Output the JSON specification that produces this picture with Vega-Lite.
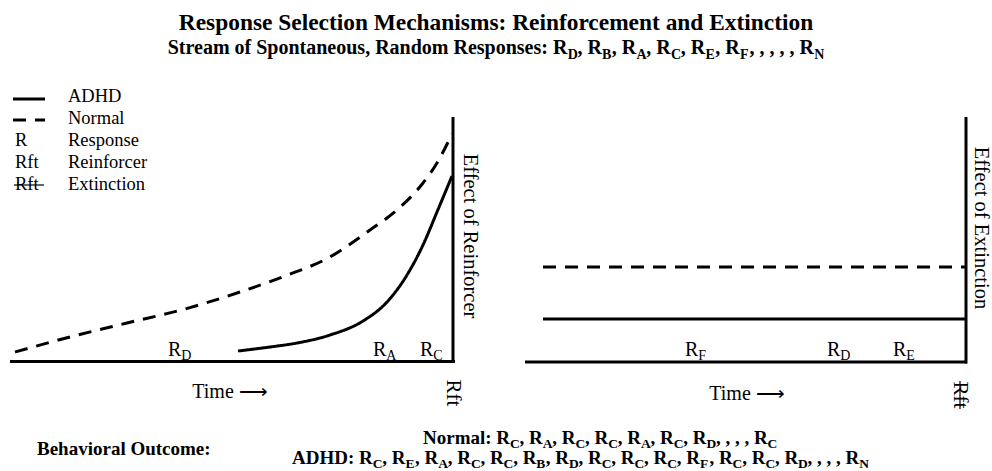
{
  "$schema": "https://vega.github.io/schema/vega-lite/v6.json",
  "width": 992,
  "height": 471,
  "padding": 0,
  "autosize": {"type": "fit", "contains": "padding"},
  "background": "white",
  "config": {"view": {"stroke": null}, "font": "Liberation Serif"},
  "datasets": {
    "frame": [
      {"x": 10, "y": 361.5, "x2": 455, "y2": 361.5},
      {"x": 453, "y": 117, "x2": 453, "y2": 363},
      {"x": 525, "y": 362, "x2": 967, "y2": 362},
      {"x": 966, "y": 117, "x2": 966, "y2": 363.5}
    ],
    "strikes": [
      {"x": 14, "y": 185, "x2": 44, "y2": 185},
      {"x": 960, "y": 381, "x2": 960, "y2": 409}
    ],
    "curves": [
      {"id": "LN", "series": "Normal", "x": 15, "y": 352},
      {"id": "LN", "series": "Normal", "x": 70, "y": 337},
      {"id": "LN", "series": "Normal", "x": 127, "y": 323},
      {"id": "LN", "series": "Normal", "x": 185, "y": 309},
      {"id": "LN", "series": "Normal", "x": 240, "y": 292},
      {"id": "LN", "series": "Normal", "x": 285, "y": 276},
      {"id": "LN", "series": "Normal", "x": 330, "y": 257},
      {"id": "LN", "series": "Normal", "x": 370, "y": 230},
      {"id": "LN", "series": "Normal", "x": 397, "y": 210},
      {"id": "LN", "series": "Normal", "x": 423, "y": 183},
      {"id": "LN", "series": "Normal", "x": 437, "y": 163},
      {"id": "LN", "series": "Normal", "x": 452, "y": 134},
      {"id": "LA", "series": "ADHD", "x": 238, "y": 351},
      {"id": "LA", "series": "ADHD", "x": 270, "y": 347},
      {"id": "LA", "series": "ADHD", "x": 297, "y": 343},
      {"id": "LA", "series": "ADHD", "x": 330, "y": 335},
      {"id": "LA", "series": "ADHD", "x": 363, "y": 321},
      {"id": "LA", "series": "ADHD", "x": 387, "y": 302},
      {"id": "LA", "series": "ADHD", "x": 407, "y": 275},
      {"id": "LA", "series": "ADHD", "x": 423, "y": 245},
      {"id": "LA", "series": "ADHD", "x": 437, "y": 212},
      {"id": "LA", "series": "ADHD", "x": 452, "y": 176},
      {"id": "RN", "series": "Normal", "x": 543, "y": 267},
      {"id": "RN", "series": "Normal", "x": 966, "y": 267},
      {"id": "RA", "series": "ADHD", "x": 543, "y": 319},
      {"id": "RA", "series": "ADHD", "x": 966, "y": 319},
      {"id": "GA", "series": "ADHD", "x": 13, "y": 99},
      {"id": "GA", "series": "ADHD", "x": 45, "y": 99},
      {"id": "GN", "series": "Normal", "x": 13, "y": 120},
      {"id": "GN", "series": "Normal", "x": 45, "y": 120}
    ],
    "texts": [
      {"k": "t1", "x": 496, "y": 30, "t": "Response Selection Mechanisms: Reinforcement and Extinction"},
      {"k": "t2m", "x": 167.7, "y": 54, "t": "Stream of Spontaneous, Random Responses: R\u00a0\u00a0, R\u00a0\u00a0, R\u00a0\u00a0, R\u00a0\u00a0, R\u00a0\u00a0, R\u00a0\u00a0, , , , , R"},
      {"k": "t2s", "x": 567.7, "y": 54, "t": "D"},
      {"k": "t2s", "x": 602.1, "y": 54, "t": "B"},
      {"k": "t2s", "x": 636.6, "y": 54, "t": "A"},
      {"k": "t2s", "x": 671.0, "y": 54, "t": "C"},
      {"k": "t2s", "x": 705.5, "y": 54, "t": "E"},
      {"k": "t2s", "x": 739.9, "y": 54, "t": "F"},
      {"k": "t2s", "x": 814.3, "y": 54, "t": "N"},
      {"k": "bm", "x": 37, "y": 455, "t": "Behavioral Outcome:"},
      {"k": "bm", "x": 423, "y": 444, "t": "Normal: R\u00a0\u00a0, R\u00a0\u00a0, R\u00a0\u00a0, R\u00a0\u00a0, R\u00a0\u00a0, R\u00a0\u00a0, R\u00a0\u00a0, , , , R"},
      {"k": "bs", "x": 510.1, "y": 444, "t": "C"},
      {"k": "bs", "x": 542.8, "y": 444, "t": "A"},
      {"k": "bs", "x": 575.5, "y": 444, "t": "C"},
      {"k": "bs", "x": 608.3, "y": 444, "t": "C"},
      {"k": "bs", "x": 641.0, "y": 444, "t": "A"},
      {"k": "bs", "x": 673.7, "y": 444, "t": "C"},
      {"k": "bs", "x": 706.4, "y": 444, "t": "D"},
      {"k": "bs", "x": 767.6, "y": 444, "t": "C"},
      {"k": "bm", "x": 292, "y": 464, "t": "ADHD: R\u00a0\u00a0, R\u00a0\u00a0, R\u00a0\u00a0, R\u00a0\u00a0, R\u00a0\u00a0, R\u00a0\u00a0, R\u00a0\u00a0, R\u00a0\u00a0, R\u00a0\u00a0, R\u00a0\u00a0, R\u00a0\u00a0, R\u00a0\u00a0, R\u00a0\u00a0, R\u00a0\u00a0, , , , R"},
      {"k": "bs", "x": 372.7, "y": 464, "t": "C"},
      {"k": "bs", "x": 405.4, "y": 464, "t": "E"},
      {"k": "bs", "x": 438.2, "y": 464, "t": "A"},
      {"k": "bs", "x": 470.9, "y": 464, "t": "C"},
      {"k": "bs", "x": 503.6, "y": 464, "t": "C"},
      {"k": "bs", "x": 536.3, "y": 464, "t": "B"},
      {"k": "bs", "x": 569.0, "y": 464, "t": "D"},
      {"k": "bs", "x": 601.8, "y": 464, "t": "C"},
      {"k": "bs", "x": 634.5, "y": 464, "t": "C"},
      {"k": "bs", "x": 667.2, "y": 464, "t": "C"},
      {"k": "bs", "x": 699.9, "y": 464, "t": "F"},
      {"k": "bs", "x": 732.6, "y": 464, "t": "C"},
      {"k": "bs", "x": 765.4, "y": 464, "t": "C"},
      {"k": "bs", "x": 798.1, "y": 464, "t": "D"},
      {"k": "bs", "x": 859.3, "y": 464, "t": "N"},
      {"k": "leg", "x": 15, "y": 140, "t": "R"},
      {"k": "leg", "x": 15, "y": 162, "t": "Rft"},
      {"k": "leg", "x": 15, "y": 184, "t": "Rft"},
      {"k": "leg", "x": 68, "y": 96, "t": "ADHD"},
      {"k": "leg", "x": 68, "y": 118, "t": "Normal"},
      {"k": "leg", "x": 68, "y": 140, "t": "Response"},
      {"k": "leg", "x": 68, "y": 162, "t": "Reinforcer"},
      {"k": "leg", "x": 68, "y": 184, "t": "Extinction"},
      {"k": "lm", "x": 168, "y": 356, "t": "R"},
      {"k": "lm", "x": 373, "y": 356, "t": "R"},
      {"k": "lm", "x": 420, "y": 356, "t": "R"},
      {"k": "lm", "x": 685, "y": 356, "t": "R"},
      {"k": "lm", "x": 827, "y": 356, "t": "R"},
      {"k": "lm", "x": 893, "y": 356, "t": "R"},
      {"k": "ls", "x": 181.3, "y": 356, "t": "D"},
      {"k": "ls", "x": 386.3, "y": 356, "t": "A"},
      {"k": "ls", "x": 433.3, "y": 356, "t": "C"},
      {"k": "ls", "x": 698.3, "y": 356, "t": "F"},
      {"k": "ls", "x": 840.3, "y": 356, "t": "D"},
      {"k": "ls", "x": 906.3, "y": 356, "t": "E"},
      {"k": "c", "x": 230, "y": 392, "t": "Time \u27f6"},
      {"k": "c", "x": 747, "y": 394, "t": "Time \u27f6"},
      {"k": "rot", "x": 470, "y": 236, "t": "Effect of Reinforcer"},
      {"k": "rot", "x": 981, "y": 228, "t": "Effect of Extinction"},
      {"k": "rot2", "x": 453, "y": 393, "t": "Rft"},
      {"k": "rot2", "x": 960, "y": 395, "t": "Rft"}
    ]
  },
  "encoding": {
    "x": {"field": "x", "type": "quantitative", "scale": {"domain": [0, 992], "nice": false, "zero": false}, "axis": null},
    "y": {"field": "y", "type": "quantitative", "scale": {"domain": [0, 471], "nice": false, "zero": false, "reverse": true}, "axis": null}
  },
  "layer": [
    {
      "data": {"name": "frame"},
      "mark": {"type": "rule", "color": "black", "strokeWidth": 3},
      "encoding": {"x2": {"field": "x2"}, "y2": {"field": "y2"}}
    },
    {
      "data": {"name": "strikes"},
      "mark": {"type": "rule", "color": "black", "strokeWidth": 1.2},
      "encoding": {"x2": {"field": "x2"}, "y2": {"field": "y2"}}
    },
    {
      "data": {"name": "curves"},
      "mark": {"type": "line", "color": "black", "strokeWidth": 3, "interpolate": "monotone"},
      "encoding": {
        "detail": {"field": "id"},
        "strokeDash": {"field": "series", "type": "nominal", "scale": {"domain": ["ADHD", "Normal"], "range": [[1, 0], [13, 9]]}, "legend": null}
      }
    },
    {
      "data": {"name": "texts"},
      "transform": [{"filter": "datum.k === 't1'"}],
      "mark": {"type": "text", "font": "Liberation Serif", "fontSize": 23.4, "fontWeight": "bold", "align": "center", "baseline": "alphabetic", "color": "black"},
      "encoding": {"text": {"field": "t"}}
    },
    {
      "data": {"name": "texts"},
      "transform": [{"filter": "datum.k === 't2m'"}],
      "mark": {"type": "text", "font": "Liberation Serif", "fontSize": 20, "fontWeight": "bold", "align": "left", "baseline": "alphabetic", "color": "black"},
      "encoding": {"text": {"field": "t"}}
    },
    {
      "data": {"name": "texts"},
      "transform": [{"filter": "datum.k === 't2s'"}],
      "mark": {"type": "text", "font": "Liberation Serif", "fontSize": 14, "fontWeight": "bold", "align": "left", "baseline": "alphabetic", "dy": 5, "color": "black"},
      "encoding": {"text": {"field": "t"}}
    },
    {
      "data": {"name": "texts"},
      "transform": [{"filter": "datum.k === 'bm'"}],
      "mark": {"type": "text", "font": "Liberation Serif", "fontSize": 19, "fontWeight": "bold", "align": "left", "baseline": "alphabetic", "color": "black"},
      "encoding": {"text": {"field": "t"}}
    },
    {
      "data": {"name": "texts"},
      "transform": [{"filter": "datum.k === 'bs'"}],
      "mark": {"type": "text", "font": "Liberation Serif", "fontSize": 13.5, "fontWeight": "bold", "align": "left", "baseline": "alphabetic", "dy": 4, "color": "black"},
      "encoding": {"text": {"field": "t"}}
    },
    {
      "data": {"name": "texts"},
      "transform": [{"filter": "datum.k === 'leg'"}],
      "mark": {"type": "text", "font": "Liberation Serif", "fontSize": 18.5, "align": "left", "baseline": "middle", "color": "black"},
      "encoding": {"text": {"field": "t"}}
    },
    {
      "data": {"name": "texts"},
      "transform": [{"filter": "datum.k === 'lm'"}],
      "mark": {"type": "text", "font": "Liberation Serif", "fontSize": 20, "align": "left", "baseline": "alphabetic", "color": "black"},
      "encoding": {"text": {"field": "t"}}
    },
    {
      "data": {"name": "texts"},
      "transform": [{"filter": "datum.k === 'ls'"}],
      "mark": {"type": "text", "font": "Liberation Serif", "fontSize": 14, "align": "left", "baseline": "alphabetic", "dy": 4, "color": "black"},
      "encoding": {"text": {"field": "t"}}
    },
    {
      "data": {"name": "texts"},
      "transform": [{"filter": "datum.k === 'c'"}],
      "mark": {"type": "text", "font": "Liberation Serif", "fontSize": 20, "align": "center", "baseline": "middle", "color": "black"},
      "encoding": {"text": {"field": "t"}}
    },
    {
      "data": {"name": "texts"},
      "transform": [{"filter": "datum.k === 'rot'"}],
      "mark": {"type": "text", "font": "Liberation Serif", "fontSize": 20.5, "align": "center", "baseline": "middle", "angle": 90, "color": "black"},
      "encoding": {"text": {"field": "t"}}
    },
    {
      "data": {"name": "texts"},
      "transform": [{"filter": "datum.k === 'rot2'"}],
      "mark": {"type": "text", "font": "Liberation Serif", "fontSize": 21, "align": "center", "baseline": "middle", "angle": 90, "color": "black"},
      "encoding": {"text": {"field": "t"}}
    }
  ]
}
